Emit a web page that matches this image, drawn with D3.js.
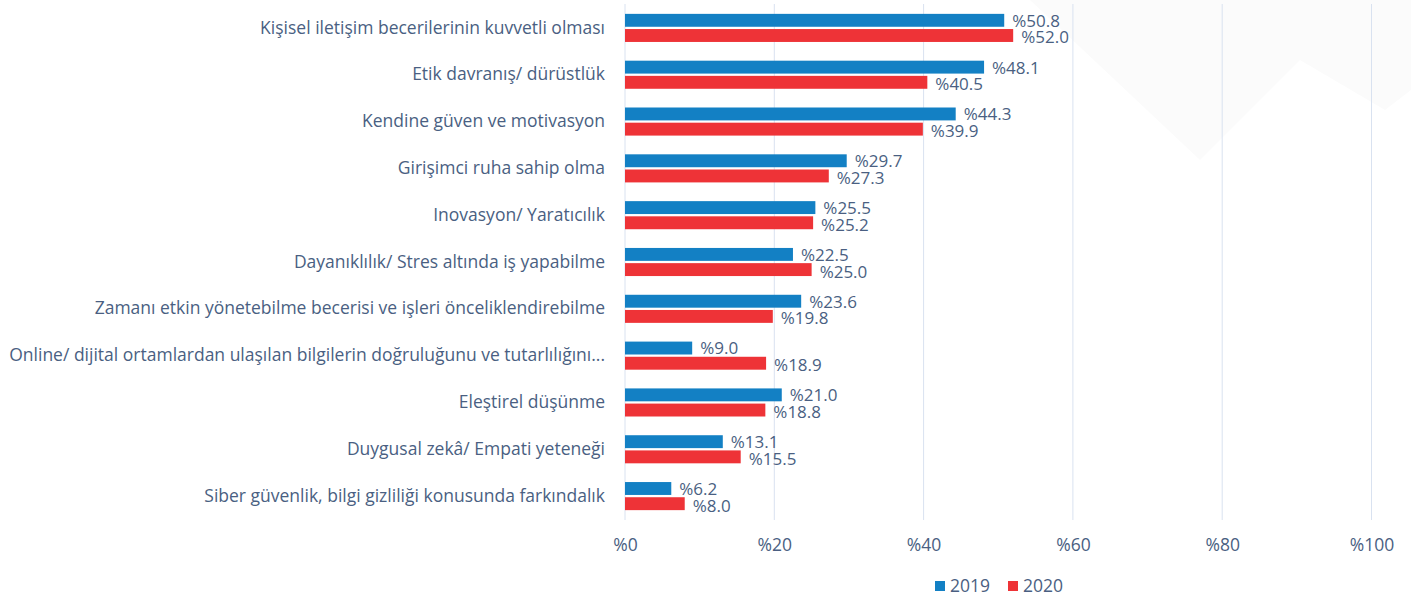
<!DOCTYPE html>
<html>
<head>
<meta charset="utf-8">
<script src="https://cdn.jsdelivr.net/npm/d3@7"></script>
<style>
  body { margin: 0; background: #fff; }
  svg { display: block; font-family: "Open Sans", Lato, sans-serif; }
</style>
</head>
<body>
<svg id="chart" width="1411" height="601"></svg>
<script>
// chart data
var categories = [
    "Kişisel iletişim becerilerinin kuvvetli olması",
    "Etik davranış/ dürüstlük",
    "Kendine güven ve motivasyon",
    "Girişimci ruha sahip olma",
    "Inovasyon/ Yaratıcılık",
    "Dayanıklılık/ Stres altında iş yapabilme",
    "Zamanı etkin yönetebilme becerisi ve işleri önceliklendirebilme",
    "Online/ dijital ortamlardan ulaşılan bilgilerin doğruluğunu ve tutarlılığını...",
    "Eleştirel düşünme",
    "Duygusal zekâ/ Empati yeteneği",
    "Siber güvenlik, bilgi gizliliği konusunda farkındalık"
];
var series = ["2019", "2020"];
var values2019 = [50.8, 48.1, 44.3, 29.7, 25.5, 22.5, 23.6, 9.0, 21.0, 13.1, 6.2];
var values2020 = [52.0, 40.5, 39.9, 27.3, 25.2, 25.0, 19.8, 18.9, 18.8, 15.5, 8.0];
var xTicks = [0, 20, 40, 60, 80, 100];

var colors = { "2019": "#1380c4", "2020": "#ee3337" };
var textColor = "#4a5f82";
var font = "'Open Sans', Lato, sans-serif";
var fontSize = 17.5;

var svg = d3.select("#chart");

// faint background decoration (top right)
svg.append("path")
    .attr("d", "M1030,0 L1200,160 L1300,60 L1385,110 L1411,90 L1411,0 Z")
    .attr("fill", "#fbfbfb");

var x = d3.scaleLinear().domain([0, 100]).range([625, 1371.5]);
var y = d3.scaleBand().domain(categories).range([4.5, 519.5]).paddingInner(0.4).paddingOuter(0.2);
var y1 = d3.scaleBand().domain(series).range([0, y.bandwidth()]).paddingInner(0.15);

// gridlines
svg.append("g")
    .selectAll("line")
    .data(xTicks)
    .enter()
    .append("line")
    .attr("x1", function (d) { return x(d); })
    .attr("x2", function (d) { return x(d); })
    .attr("y1", 4)
    .attr("y2", 520)
    .attr("stroke", "#d9e2f0")
    .attr("stroke-width", 1);

// x axis labels
var xAxis = d3.axisBottom(x)
    .tickValues(xTicks)
    .tickSize(0)
    .tickPadding(0)
    .tickFormat(function (d) { return "%" + d; });
var gx = svg.append("g").attr("transform", "translate(0,539)").call(xAxis);
gx.select(".domain").remove();
gx.selectAll("text")
    .attr("fill", textColor)
    .attr("font-size", fontSize)
    .attr("font-family", font);

// category labels
var yAxis = d3.axisLeft(y).tickSize(0).tickPadding(0);
var gy = svg.append("g").attr("transform", "translate(605,0)").call(yAxis);
gy.select(".domain").remove();
gy.selectAll("text")
    .attr("fill", textColor)
    .attr("font-size", fontSize)
    .attr("font-family", font);

// bars + value labels
var rows = categories.map(function (c, i) {
    return [
        { cat: c, key: "2019", value: values2019[i] },
        { cat: c, key: "2020", value: values2020[i] }
    ];
});

var groups = svg.append("g")
    .selectAll("g")
    .data(rows)
    .enter()
    .append("g")
    .attr("transform", function (d) { return "translate(0," + y(d[0].cat) + ")"; });

groups.selectAll("rect")
    .data(function (d) { return d; })
    .enter()
    .append("rect")
    .attr("x", x(0))
    .attr("y", function (d) { return y1(d.key); })
    .attr("width", function (d) { return x(d.value) - x(0); })
    .attr("height", y1.bandwidth())
    .attr("fill", function (d) { return colors[d.key]; });

groups.selectAll("text")
    .data(function (d) { return d; })
    .enter()
    .append("text")
    .attr("x", function (d) { return x(d.value) + 8; })
    .attr("y", function (d) { return y1(d.key) + y1.bandwidth() / 2 + (d.key == "2019" ? 0.5 : 2); })
    .attr("dy", "0.35em")
    .attr("fill", textColor)
    .attr("font-size", 17)
    .attr("font-family", font)
    .text(function (d) { return "%" + d.value.toFixed(1); });

// legend
var legend = svg.append("g").attr("transform", "translate(935,586)");
var items = legend.selectAll("g")
    .data(series)
    .enter()
    .append("g")
    .attr("transform", function (d, i) { return "translate(" + (i * 73) + ",0)"; });
items.append("rect")
    .attr("x", 0)
    .attr("y", -5)
    .attr("width", 10)
    .attr("height", 10)
    .attr("fill", function (d) { return colors[d]; });
items.append("text")
    .attr("x", 15)
    .attr("y", 0)
    .attr("dy", "0.35em")
    .attr("fill", textColor)
    .attr("font-size", fontSize)
    .attr("font-family", font)
    .text(function (d) { return d; });
</script>
</body>
</html>
